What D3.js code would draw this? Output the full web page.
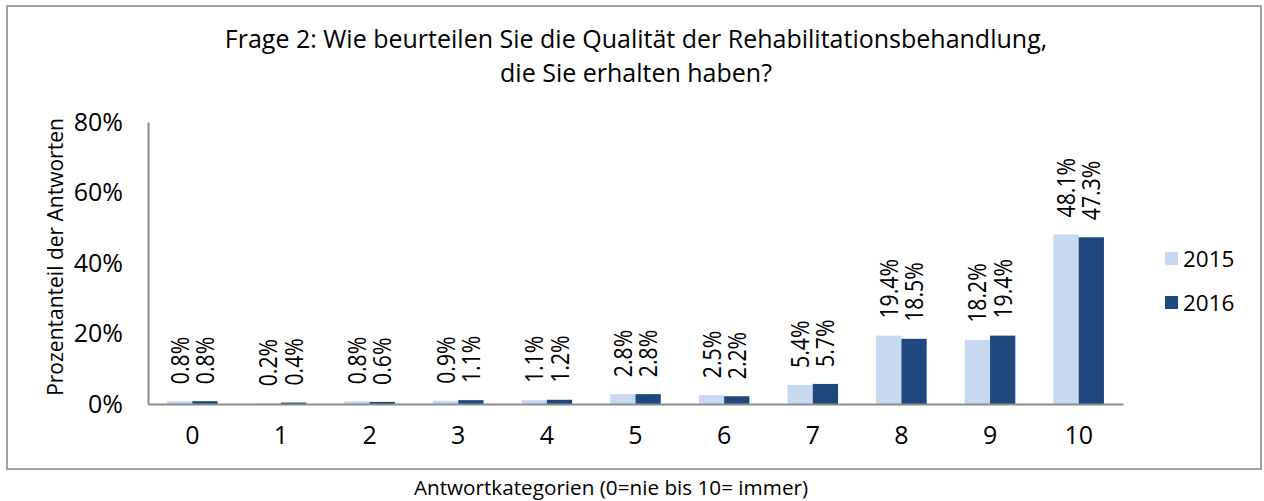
<!DOCTYPE html>
<html>
<head>
<meta charset="utf-8">
<script src="https://cdn.jsdelivr.net/npm/d3@7"></script>
<style>
  body { margin: 0; background: #fff; }
  text { font-family: "Open Sans", "Noto Sans", sans-serif; fill: #000; }
</style>
</head>
<body>
<div id="chart"></div>
<script>
// chart data
const categories = ["0", "1", "2", "3", "4", "5", "6", "7", "8", "9", "10"];
const seriesNames = ["2015", "2016"];
const values2015 = [0.8, 0.2, 0.8, 0.9, 1.1, 2.8, 2.5, 5.4, 19.4, 18.2, 48.1];
const values2016 = [0.8, 0.4, 0.6, 1.1, 1.2, 2.8, 2.2, 5.7, 18.5, 19.4, 47.3];
const yTicks = [0, 20, 40, 60, 80];
const titleLines = ["Frage 2: Wie beurteilen Sie die Qualität der Rehabilitationsbehandlung,", "die Sie erhalten haben?"];
const yTitle = "Prozentanteil der Antworten";
const xTitle = "Antwortkategorien (0=nie bis 10= immer)";

const colors = ["#C6D9F1", "#1F497D"];

const svgWidth = 1264;
const svgHeight = 501;
const plot = { left: 148, right: 1123, top: 122, bottom: 404 };

const svg = d3.select("#chart")
    .append("svg")
    .attr("width", svgWidth)
    .attr("height", svgHeight);

// outer frame
svg.append("rect")
    .attr("x", 7)
    .attr("y", 6)
    .attr("width", 1254)
    .attr("height", 463)
    .attr("fill", "#fff")
    .attr("stroke", "#a0a0a0")
    .attr("stroke-width", 2);

// title
svg.append("g").selectAll("text")
    .data(titleLines)
    .join("text")
    .attr("x", 636)
    .attr("y", (d, i) => 48 + i * 34)
    .attr("text-anchor", "middle")
    .attr("font-size", 25)
    .text(d => d);

const x = d3.scaleBand()
    .domain(categories)
    .range([plot.left, plot.right])
    .paddingInner(0.43)
    .paddingOuter(0.215);

const xSub = d3.scaleBand()
    .domain(seriesNames)
    .range([0, x.bandwidth()]);

const y = d3.scaleLinear()
    .domain([0, 80])
    .range([plot.bottom, plot.top]);

const rows = categories.map((c, i) => ({ cat: c, vals: [values2015[i], values2016[i]] }));

// bars
const groups = svg.append("g")
    .selectAll("g")
    .data(rows)
    .join("g")
    .attr("transform", d => `translate(${x(d.cat)},0)`);

groups.selectAll("rect")
    .data(d => d.vals.map((v, j) => ({ v, s: seriesNames[j], j })))
    .join("rect")
    .attr("x", d => xSub(d.s))
    .attr("y", d => y(d.v))
    .attr("width", xSub.bandwidth())
    .attr("height", d => y(0) - y(d.v))
    .attr("fill", d => colors[d.j]);

// data labels (rotated, slightly condensed)
groups.selectAll("text")
    .data(d => d.vals.map((v, j) => ({ v, s: seriesNames[j] })))
    .join("text")
    .attr("transform", d => `translate(${xSub(d.s) + xSub.bandwidth() / 2},${y(d.v) - 17}) rotate(-90) scale(0.85,1)`)
    .attr("dy", "0.36em")
    .attr("font-size", 25)
    .attr("text-anchor", "start")
    .text(d => d.v.toFixed(1) + "%");

// y axis
const yAxis = svg.append("g")
    .attr("transform", `translate(${plot.left},0)`)
    .call(d3.axisLeft(y).tickValues(yTicks).tickSize(0).tickPadding(25).tickFormat(d => d + "%"));
yAxis.select(".domain").attr("stroke", "#8c8c8c").attr("stroke-width", 2);
yAxis.selectAll(".tick text").attr("font-size", 25).attr("font-family", "Open Sans").attr("fill", "#000");

// x axis
const xAxis = svg.append("g")
    .attr("transform", `translate(0,${plot.bottom})`)
    .call(d3.axisBottom(x).tickSize(0).tickPadding(22));
xAxis.select(".domain").attr("stroke", "#8c8c8c").attr("stroke-width", 2);
xAxis.selectAll(".tick text").attr("font-size", 25).attr("font-family", "Open Sans").attr("fill", "#000");

// axis titles
svg.append("text")
    .attr("transform", `translate(55,257) rotate(-90)`)
    .attr("dy", "0.36em")
    .attr("text-anchor", "middle")
    .attr("font-size", 21)
    .text(yTitle);

svg.append("text")
    .attr("x", 611)
    .attr("y", 495)
    .attr("text-anchor", "middle")
    .attr("font-size", 20.7)
    .text(xTitle);

// legend
const legend = svg.append("g")
    .selectAll("g")
    .data(seriesNames)
    .join("g")
    .attr("transform", (d, i) => `translate(1165,${252 + i * 44})`);

legend.append("rect")
    .attr("width", 13)
    .attr("height", 13)
    .attr("fill", (d, i) => colors[i]);

legend.append("text")
    .attr("x", 18)
    .attr("y", 6.5)
    .attr("dy", "0.36em")
    .attr("font-size", 22.5)
    .text(d => d);
</script>
</body>
</html>
